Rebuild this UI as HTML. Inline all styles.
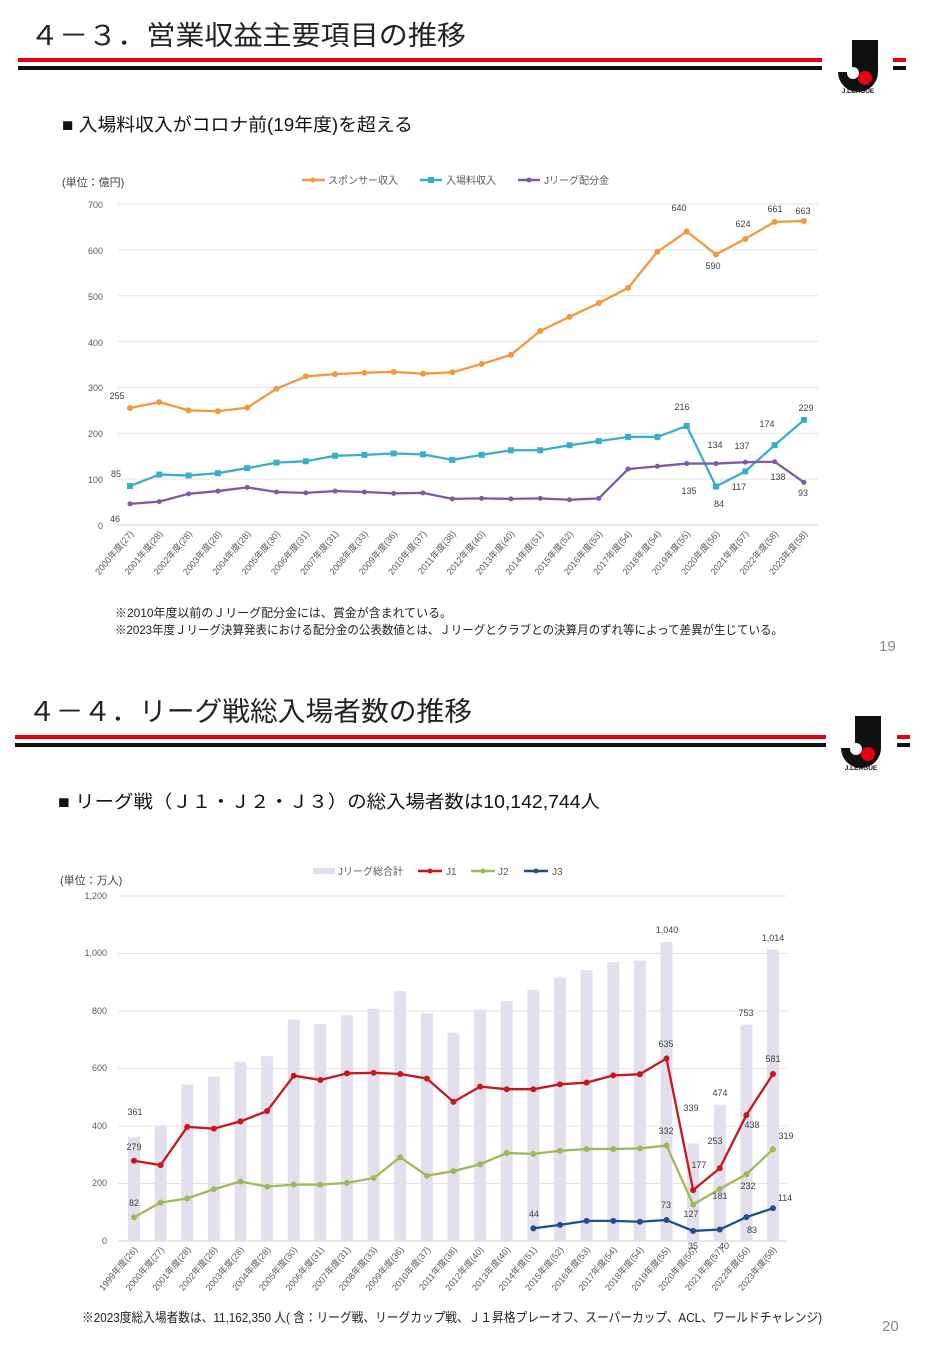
<!DOCTYPE html>
<html><head><meta charset="utf-8"><style>
body{margin:0;background:#fff;}
svg{display:block;font-family:"Liberation Sans","Noto Sans CJK JP",sans-serif;}
.t{fill:#595959;font-size:9px}
.d{fill:#404040;font-size:9px}
.x{fill:#595959;font-size:9px}
</style></head><body>
<svg id="s" width="926" height="1352" viewBox="0 0 926 1352" xmlns="http://www.w3.org/2000/svg">
<text x="30" y="45" font-size="27" fill="#222" textLength="436" lengthAdjust="spacingAndGlyphs">４－３．営業収益主要項目の推移</text>
<rect x="18" y="58" width="804" height="4" fill="#e60012"/>
<rect x="18" y="66" width="804" height="4" fill="#111"/>
<rect x="893" y="58" width="13" height="4" fill="#e60012"/>
<rect x="893" y="66" width="13" height="4" fill="#111"/>
<g transform="translate(836,40)">
<path d="M16 0 H42 V32 A20 20 0 0 1 2 32 H16 Z" fill="#111"/>
<circle cx="17" cy="33" r="6" fill="#fff"/><circle cx="29" cy="38" r="7" fill="#e60012"/>
<text x="22" y="53" font-size="6.5" font-weight="bold" text-anchor="middle" fill="#111">J.LEAGUE</text></g>
<text x="62" y="131" font-size="18" fill="#111" textLength="351" lengthAdjust="spacingAndGlyphs">■ 入場料収入がコロナ前(19年度)を超える</text>
<text x="62" y="186" font-size="11" fill="#404040">(単位：億円)</text>
<line x1="302" y1="180" x2="325" y2="180" stroke="#f4983f" stroke-width="2.5"/><circle cx="313" cy="180" r="2.5" fill="#f4983f"/>
<text x="328" y="184" font-size="10" fill="#595959">スポンサー収入</text>
<line x1="420" y1="180" x2="442" y2="180" stroke="#3aaec8" stroke-width="2.5"/><rect x="428" y="177" width="6" height="6" fill="#3aaec8"/>
<text x="446" y="184" font-size="10" fill="#595959">入場料収入</text>
<line x1="518" y1="180" x2="540" y2="180" stroke="#7e5aa6" stroke-width="2.5"/><circle cx="529" cy="180" r="2.5" fill="#7e5aa6"/>
<text x="544" y="184" font-size="10" fill="#595959">Jリーグ配分金</text>
<g text-anchor="end">
<text class="t" x="103" y="208">700</text><text class="t" x="103" y="254">600</text><text class="t" x="103" y="300">500</text><text class="t" x="103" y="346">400</text><text class="t" x="103" y="391">300</text><text class="t" x="103" y="437">200</text><text class="t" x="103" y="483">100</text><text class="t" x="103" y="529">0</text>
</g>
<g id="c1"></g>
<g class="d" text-anchor="middle">
<text x="117" y="399">255</text><text x="116" y="477">85</text><text x="115" y="522">46</text>
<text x="679" y="211">640</text><text x="713" y="269">590</text><text x="743" y="227">624</text><text x="775" y="212">661</text><text x="803" y="214">663</text>
<text x="682" y="410">216</text><text x="806" y="411">229</text><text x="767" y="427">174</text><text x="715" y="448">134</text><text x="742" y="449">137</text>
<text x="689" y="494">135</text><text x="719" y="507">84</text><text x="739" y="490">117</text><text x="778" y="480">138</text><text x="803" y="496">93</text>
</g>
<g class="x" text-anchor="end">
<text transform="translate(134,534) rotate(-50)">2000年度(27)</text>
<text transform="translate(163.3,534) rotate(-50)">2001年度(28)</text>
<text transform="translate(192.6,534) rotate(-50)">2002年度(28)</text>
<text transform="translate(221.9,534) rotate(-50)">2003年度(28)</text>
<text transform="translate(251.2,534) rotate(-50)">2004年度(28)</text>
<text transform="translate(280.5,534) rotate(-50)">2005年度(30)</text>
<text transform="translate(309.8,534) rotate(-50)">2006年度(31)</text>
<text transform="translate(339.1,534) rotate(-50)">2007年度(31)</text>
<text transform="translate(368.4,534) rotate(-50)">2008年度(33)</text>
<text transform="translate(397.7,534) rotate(-50)">2009年度(36)</text>
<text transform="translate(427,534) rotate(-50)">2010年度(37)</text>
<text transform="translate(456.3,534) rotate(-50)">2011年度(38)</text>
<text transform="translate(485.6,534) rotate(-50)">2012年度(40)</text>
<text transform="translate(514.9,534) rotate(-50)">2013年度(40)</text>
<text transform="translate(544.2,534) rotate(-50)">2014年度(51)</text>
<text transform="translate(573.5,534) rotate(-50)">2015年度(52)</text>
<text transform="translate(602.8,534) rotate(-50)">2016年度(53)</text>
<text transform="translate(632.1,534) rotate(-50)">2017年度(54)</text>
<text transform="translate(661.4,534) rotate(-50)">2018年度(54)</text>
<text transform="translate(690.7,534) rotate(-50)">2019年度(55)</text>
<text transform="translate(720,534) rotate(-50)">2020年度(56)</text>
<text transform="translate(749.3,534) rotate(-50)">2021年度(57)</text>
<text transform="translate(778.6,534) rotate(-50)">2022年度(58)</text>
<text transform="translate(807.9,534) rotate(-50)">2023年度(58)</text>
</g>
<text x="115" y="617" font-size="12" fill="#222" textLength="337" lengthAdjust="spacingAndGlyphs">※2010年度以前のＪリーグ配分金には、賞金が含まれている。</text>
<text x="115" y="634" font-size="12" fill="#222" textLength="668" lengthAdjust="spacingAndGlyphs">※2023年度Ｊリーグ決算発表における配分金の公表数値とは、Ｊリーグとクラブとの決算月のずれ等によって差異が生じている。</text>
<text x="879" y="651" font-size="15" fill="#888">19</text>

<text x="28" y="721" font-size="27" fill="#222" textLength="444" lengthAdjust="spacingAndGlyphs">４－４．リーグ戦総入場者数の推移</text>
<rect x="15" y="735" width="811" height="4" fill="#e60012"/>
<rect x="15" y="743" width="811" height="4" fill="#111"/>
<rect x="897" y="735" width="13" height="4" fill="#e60012"/>
<rect x="897" y="743" width="13" height="4" fill="#111"/>
<g transform="translate(839,716)">
<path d="M16 0 H42 V32 A20 20 0 0 1 2 32 H16 Z" fill="#111"/>
<circle cx="17" cy="33" r="6" fill="#fff"/><circle cx="29" cy="38" r="7" fill="#e60012"/>
<text x="22" y="54" font-size="6.5" font-weight="bold" text-anchor="middle" fill="#111">J.LEAGUE</text></g>
<text x="58" y="808" font-size="18" fill="#111" textLength="542" lengthAdjust="spacingAndGlyphs">■ リーグ戦（Ｊ１・Ｊ２・Ｊ３）の総入場者数は10,142,744人</text>
<text x="60" y="884" font-size="11" fill="#404040">(単位：万人)</text>
<rect x="313" y="868" width="22" height="6" fill="#e4dfec"/>
<text x="338" y="875" font-size="10" fill="#595959">Jリーグ総合計</text>
<line x1="418" y1="871" x2="442" y2="871" stroke="#c8161d" stroke-width="2.5"/><circle cx="430" cy="871" r="2.5" fill="#c8161d"/>
<text x="446" y="875" font-size="10" fill="#595959">J1</text>
<line x1="471" y1="871" x2="495" y2="871" stroke="#9bbb59" stroke-width="2.5"/><circle cx="483" cy="871" r="2.5" fill="#9bbb59"/>
<text x="498" y="875" font-size="10" fill="#595959">J2</text>
<line x1="524" y1="871" x2="548" y2="871" stroke="#1f4e89" stroke-width="2.5"/><circle cx="536" cy="871" r="2.5" fill="#1f4e89"/>
<text x="552" y="875" font-size="10" fill="#595959">J3</text>
<g text-anchor="end">
<text class="t" x="107" y="899">1,200</text><text class="t" x="107" y="956">1,000</text><text class="t" x="107" y="1014">800</text><text class="t" x="107" y="1071">600</text><text class="t" x="107" y="1129">400</text><text class="t" x="107" y="1186">200</text><text class="t" x="107" y="1244">0</text>
</g>
<g id="c2"></g>
<g class="d" text-anchor="middle">
<text x="135" y="1115">361</text><text x="134" y="1150">279</text><text x="134" y="1206">82</text>
<text x="667" y="933">1,040</text><text x="773" y="941">1,014</text><text x="746" y="1016">753</text><text x="666" y="1047">635</text><text x="773" y="1062">581</text>
<text x="720" y="1096">474</text><text x="691" y="1111">339</text><text x="666" y="1134">332</text><text x="715" y="1144">253</text><text x="752" y="1128">438</text><text x="786" y="1139">319</text>
<text x="699" y="1168">177</text><text x="720" y="1199">181</text><text x="748" y="1189">232</text><text x="691" y="1217">127</text><text x="666" y="1208">73</text><text x="534" y="1217">44</text>
<text x="785" y="1201">114</text><text x="693" y="1249">35</text><text x="724" y="1249">40</text><text x="752" y="1233">83</text>
</g>
<g class="x" text-anchor="end">
<text transform="translate(138,1250) rotate(-50)">1999年度(26)</text>
<text transform="translate(164.6,1250) rotate(-50)">2000年度(27)</text>
<text transform="translate(191.3,1250) rotate(-50)">2001年度(28)</text>
<text transform="translate(217.9,1250) rotate(-50)">2002年度(28)</text>
<text transform="translate(244.5,1250) rotate(-50)">2003年度(28)</text>
<text transform="translate(271.1,1250) rotate(-50)">2004年度(28)</text>
<text transform="translate(297.8,1250) rotate(-50)">2005年度(30)</text>
<text transform="translate(324.4,1250) rotate(-50)">2006年度(31)</text>
<text transform="translate(351,1250) rotate(-50)">2007年度(31)</text>
<text transform="translate(377.6,1250) rotate(-50)">2008年度(33)</text>
<text transform="translate(404.3,1250) rotate(-50)">2009年度(36)</text>
<text transform="translate(430.9,1250) rotate(-50)">2010年度(37)</text>
<text transform="translate(457.5,1250) rotate(-50)">2011年度(38)</text>
<text transform="translate(484.1,1250) rotate(-50)">2012年度(40)</text>
<text transform="translate(510.8,1250) rotate(-50)">2013年度(40)</text>
<text transform="translate(537.4,1250) rotate(-50)">2014年度(51)</text>
<text transform="translate(564,1250) rotate(-50)">2015年度(52)</text>
<text transform="translate(590.6,1250) rotate(-50)">2016年度(53)</text>
<text transform="translate(617.3,1250) rotate(-50)">2017年度(54)</text>
<text transform="translate(643.9,1250) rotate(-50)">2018年度(54)</text>
<text transform="translate(670.5,1250) rotate(-50)">2019年度(55)</text>
<text transform="translate(697.1,1250) rotate(-50)">2020年度(56)</text>
<text transform="translate(723.8,1250) rotate(-50)">2021年度(57)</text>
<text transform="translate(750.4,1250) rotate(-50)">2022年度(56)</text>
<text transform="translate(777,1250) rotate(-50)">2023年度(58)</text>
</g>
<text x="82" y="1322" font-size="13" fill="#222" textLength="740" lengthAdjust="spacingAndGlyphs">※2023度総入場者数は、11,162,350 人( 含：リーグ戦、リーグカップ戦、Ｊ１昇格プレーオフ、スーパーカップ、ACL、ワールドチャレンジ)</text>
<text x="882" y="1331" font-size="15" fill="#888">20</text>
</svg>
<script>
var NS="http://www.w3.org/2000/svg";
function el(p,n,a){var e=document.createElementNS(NS,n);for(var k in a)e.setAttribute(k,a[k]);p.appendChild(e);return e;}
var c1=document.getElementById('c1');
for(var v=0;v<=700;v+=100){var y=525-v*321/700;el(c1,'line',{x1:118,x2:818,y1:y,y2:y,stroke:v?'#e3e3e3':'#d0d0d0','stroke-width':1});}
function series(g,data,x0,dx,y0,sc,col,mk,start){var pts=[];data.forEach(function(v,i){pts.push([x0+(i+(start||0))*dx,y0-v*sc]);});
el(g,'polyline',{points:pts.map(function(p){return p.join(',')}).join(' '),fill:'none',stroke:col,'stroke-width':2.3,'stroke-linejoin':'round'});
pts.forEach(function(p){if(mk=='s')el(g,'rect',{x:p[0]-3,y:p[1]-3,width:6,height:6,fill:col});else el(g,'circle',{cx:p[0],cy:p[1],r:mk=='d'?2.5:3,fill:col});});}
var s1=321/700;
series(c1,[255,268,250,248,256,297,324,329,332,334,330,333,351,371,423,454,484,517,596,640,590,624,661,663],130,29.3,525,s1,'#f4983f','c');
series(c1,[85,110,108,113,124,136,139,151,153,156,154,142,153,163,163,174,183,192,192,216,84,117,174,229],130,29.3,525,s1,'#3aaec8','s');
series(c1,[46,51,68,74,82,72,70,74,72,69,70,57,58,57,58,55,58,122,128,134,134,137,138,93],130,29.3,525,s1,'#7e5aa6','d');
var c2=document.getElementById('c2');var s2=345/1200;
for(var v=0;v<=1200;v+=200){var y=1241-v*s2;el(c2,'line',{x1:118,x2:787,y1:y,y2:y,stroke:v?'#e3e3e3':'#d0d0d0','stroke-width':1});}
[361,400,545,572,623,643,770,755,785,808,869,792,725,805,834,874,916,942,970,975,1040,339,474,753,1014].forEach(function(v,i){var x=134+i*26.625;el(c2,'rect',{x:x-6,y:1241-v*s2,width:12,height:v*s2,fill:'#e4dfec'});});
series(c2,[279,264,397,391,416,452,575,560,583,585,581,565,484,537,528,528,545,551,576,580,635,177,253,438,581],134,26.625,1241,s2,'#c8161d','c');
series(c2,[82,134,148,180,207,189,196,196,202,219,291,227,243,267,306,303,314,320,320,322,332,127,181,232,319],134,26.625,1241,s2,'#9bbb59','c');
series(c2,[44,56,70,70,67,73,35,40,83,114],134,26.625,1241,s2,'#1f4e89','c',15);
</script>
</body></html>
